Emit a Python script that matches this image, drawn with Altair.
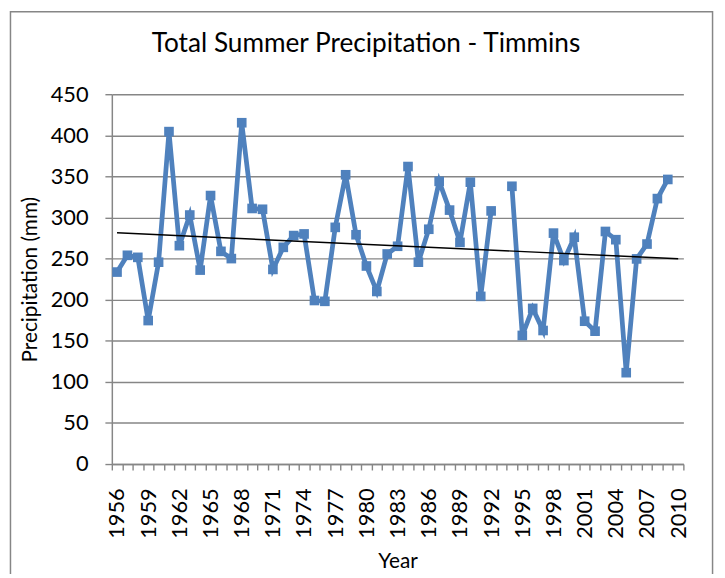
import altair as alt
import pandas as pd

# ---- data ----
years = list(range(1956, 2011))
precip = [233.6, 254.0, 251.5, 174.6, 245.6, 404.5, 265.7, 303.0, 236.0, 326.7,
          258.8, 250.0, 415.3, 311.0, 310.0, 236.8, 263.7, 278.0, 280.0, 199.0,
          198.0, 288.0, 352.0, 279.0, 241.0, 210.0, 255.6, 265.0, 362.0, 245.6,
          285.7, 344.0, 309.0, 269.7, 343.0, 204.0, 308.0, None, 338.0, 156.5,
          189.4, 162.5, 281.0, 247.6, 276.0, 173.8, 161.7, 283.0, 273.0, 111.2,
          249.6, 267.7, 323.0, 346.3, None]
label_years = list(range(1956, 2011, 3))
y_ticks = list(range(0, 451, 50))
boundaries = [y - 0.5 for y in range(1956, 2012)]

df = pd.DataFrame({"Year": years, "Precip": precip})
df["seg"] = df["Precip"].isna().cumsum()
df = df.dropna().reset_index(drop=True)

BLUE = "#4F81BD"
GRID = "#868686"
FONT = "Lato"

xscale = alt.Scale(domain=[1955.5, 2010.5], nice=False, zero=False)
yscale = alt.Scale(domain=[0, 450], nice=False, zero=True)

frame = alt.Chart(pd.DataFrame({"k": [0]})).mark_rect(
    filled=False, stroke=GRID, strokeWidth=1.5
).encode(
    x=alt.value(-102.5), x2=alt.value(607.5),
    y=alt.value(-83.5), y2=alt.value(530),
)

line = alt.Chart(df).mark_line(color=BLUE, strokeWidth=4.8).encode(
    x=alt.X("Year:Q", scale=xscale,
            axis=alt.Axis(values=label_years, format="d", labelAngle=-90,
                          ticks=False, tickSize=0, grid=False, labelPadding=24,
                          title="Year", titlePadding=13,
                          domainColor=GRID, domainWidth=1.5)),
    y=alt.Y("Precip:Q", scale=yscale,
            axis=alt.Axis(values=y_ticks, grid=True, gridColor=GRID, gridWidth=1.4,
                          tickSize=7, tickColor=GRID, tickWidth=1.4,
                          domainColor=GRID, domainWidth=1.5,
                          labelPadding=17, title="Precipitation (mm)", titlePadding=10)),
    detail="seg:N",
)

points = alt.Chart(df).mark_point(shape="square", filled=True, size=95,
                                  color=BLUE, opacity=1).encode(
    x=alt.X("Year:Q", axis=None),
    y=alt.Y("Precip:Q"),
)

trend = alt.Chart(df).transform_regression(
    "Year", "Precip", extent=[1956, 2010]
).mark_line(color="black", strokeWidth=1.5).encode(
    x=alt.X("Year:Q", axis=alt.Axis(values=boundaries, labels=False, ticks=True,
                                    tickSize=6, tickColor=GRID, tickWidth=1.4,
                                    domain=False, grid=False, title=None,
                                    orient="bottom")),
    y=alt.Y("Precip:Q"),
)

chart = alt.layer(frame, line, points, trend).resolve_axis(x="independent").properties(
    width=578, height=374,
    autosize=alt.AutoSizeParams(type="none"),
    padding={"left": 105, "top": 84, "right": 34, "bottom": 108},
    title=alt.TitleParams("Total Summer Precipitation - Timmins", font=FONT,
                          fontSize=26.5, fontWeight="normal", color="black",
                          anchor="middle", baseline="alphabetic", offset=-68.5,
                          dx=-32),
).configure_view(stroke=None).configure_axis(
    labelFont=FONT, labelFontSize=22, labelColor="black",
    titleFont=FONT, titleFontSize=21, titleColor="black", titleFontWeight="normal",
)

chart.save("out.html", embed_options={"renderer": "svg", "actions": False})
